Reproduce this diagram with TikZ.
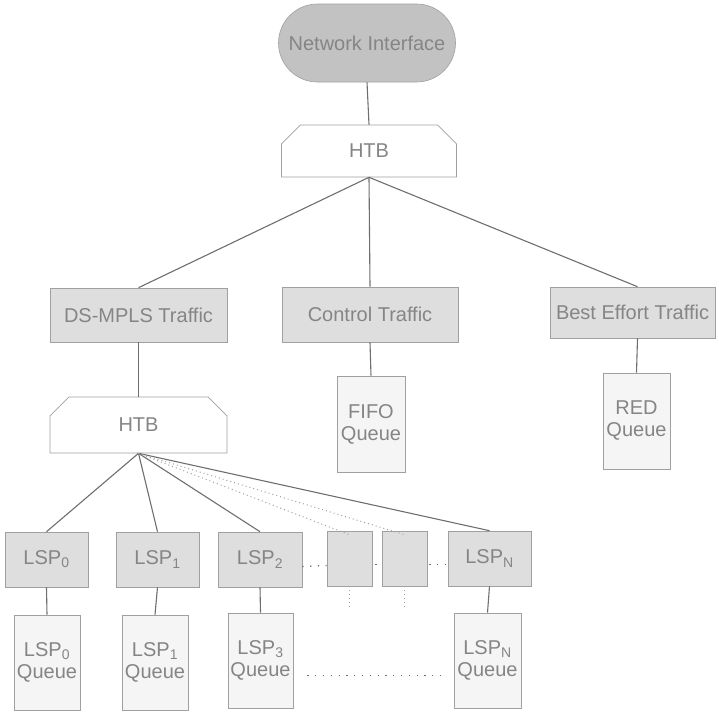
\documentclass[tikz,border=0pt]{standalone}
\usepackage{fontspec}
\setmainfont{Liberation Sans}
\usetikzlibrary{shapes.misc}

\definecolor{txtgray}{HTML}{858585}
\definecolor{edgegray}{HTML}{A0A0A0}
\definecolor{linegray}{HTML}{6E6E6E}
\definecolor{boxgray}{HTML}{DEDEDE}
\definecolor{nigray}{HTML}{C2C2C2}
\definecolor{qgray}{HTML}{F5F5F5}

\tikzset{every picture/.style={line width=0.75pt}}
\tikzset{
  base/.style={draw=edgegray, line width=0.6pt, inner sep=0pt, text=txtgray, align=center,
    font=\fontsize{20}{22}\selectfont},
  pill/.style={base, fill=nigray, rounded corners=39pt},
  htb/.style={base, fill=white, chamfered rectangle, chamfered rectangle corners={north west,north east},
    chamfered rectangle xsep=12pt, chamfered rectangle ysep=12pt},
  classbox/.style={base, fill=boxgray},
  qbox/.style={base, fill=qgray},
  link/.style={draw=linegray, line width=1.1pt},
  dotlink/.style={draw=edgegray, line width=1pt, dash pattern=on 1pt off 3pt},
  gap/.style={draw=linegray, line width=1.3pt, dash pattern=on 1.3pt off 6.5pt}
}

\begin{document}
\begin{tikzpicture}[x=1pt,y=1pt,yscale=-1,xscale=1]
\useasboundingbox (0,0) rectangle (719,712);
%Shape: Network interface
\node [pill, minimum width=177pt, minimum height=78pt] (ni) at (367,43) {Network Interface};
%Shape: top HTB
\node [htb, minimum width=175pt, minimum height=52pt] (htbA) at (369,151) {HTB};
%Shape: traffic classes
\node [classbox, minimum width=177pt, minimum height=54pt] (ds) at (138.5,315) {DS-MPLS Traffic};
\node [classbox, minimum width=176pt, minimum height=55pt] (ctrl) at (370,314.5) {Control Traffic};
\node [classbox, minimum width=165pt, minimum height=51pt] (be) at (632.5,312.5) {Best Effort Traffic};
%Shape: class queues
\node [qbox, minimum width=68pt, minimum height=96pt] (fifo) at (371,424) {FIFO\\Queue};
\node [qbox, minimum width=67pt, minimum height=96pt] (red) at (636.5,421) {RED\\Queue};
%Shape: second HTB
\node [htb, minimum width=177pt, minimum height=56pt] (htbB) at (138.5,425) {HTB};
%Shape: LSP row
\node [classbox, minimum width=83pt, minimum height=55pt] (lsp0) at (46.5,559.5) {LSP\textsubscript{0}};
\node [classbox, minimum width=83pt, minimum height=55pt] (lsp1) at (157.5,559.5) {LSP\textsubscript{1}};
\node [classbox, minimum width=84pt, minimum height=55pt] (lsp2) at (260,559.5) {LSP\textsubscript{2}};
\node [classbox, minimum width=45pt, minimum height=55pt] (e1) at (349.5,558.5) {};
\node [classbox, minimum width=45pt, minimum height=55pt] (e2) at (404.5,558.5) {};
\node [classbox, minimum width=83pt, minimum height=55pt] (lspN) at (489.5,558.5) {LSP\textsubscript{N}};
%Shape: LSP queues
\node [qbox, minimum width=66pt, minimum height=95pt] (q0) at (47,662.5) {LSP\textsubscript{0}\\Queue};
\node [qbox, minimum width=66pt, minimum height=95pt] (q1) at (155,662.5) {LSP\textsubscript{1}\\Queue};
\node [qbox, minimum width=65pt, minimum height=95pt] (q3) at (260.5,660.5) {LSP\textsubscript{3}\\Queue};
\node [qbox, minimum width=67pt, minimum height=95pt] (qN) at (487.5,660.5) {LSP\textsubscript{N}\\Queue};

%Links top part
\draw [link] (ni.south) -- (htbA.north);
\draw [link] (htbA.south) -- (ds.north);
\draw [link] (htbA.south) -- (ctrl.north);
\draw [link] (htbA.south) -- ([xshift=5pt]be.north);
\draw [link] (ctrl.south) -- (fifo.north);
\draw [link] ([xshift=5pt]be.south) -- (red.north);
\draw [link] (ds.south) -- (htbB.north);
%Links LSP fan
\foreach \t in {lsp0,lsp1,lsp2,lspN}
  \draw [link] (htbB.south) -- (\t.north);
\foreach \t in {e1,e2}
  \draw [dotlink] (htbB.south) -- ([yshift=4pt]\t.north);
\draw [link] (lsp0.south) -- (q0.north);
\draw [link] (lsp1.south) -- (q1.north);
\draw [link] (lsp2.south) -- (q3.north);
\draw [link] (lspN.south) -- (qN.north);
%Dots between the boxes
\draw [gap] ([yshift=7pt]lsp2.east) -- ([yshift=7pt]e1.west);
\draw [gap] ([yshift=6pt,xshift=3pt]e1.east) -- ([yshift=6pt]e2.west);
\draw [gap] ([yshift=6pt,xshift=2pt]e2.east) -- ([yshift=6pt]lspN.west);
\draw [dotlink] (e1.south) -- ++(0,22);
\draw [dotlink] (e2.south) -- ++(0,22);
\draw [gap, shorten <=14pt, shorten >=11pt] ([yshift=15pt]q3.east) -- ([yshift=15pt]qN.west);

\end{tikzpicture}
\end{document}
